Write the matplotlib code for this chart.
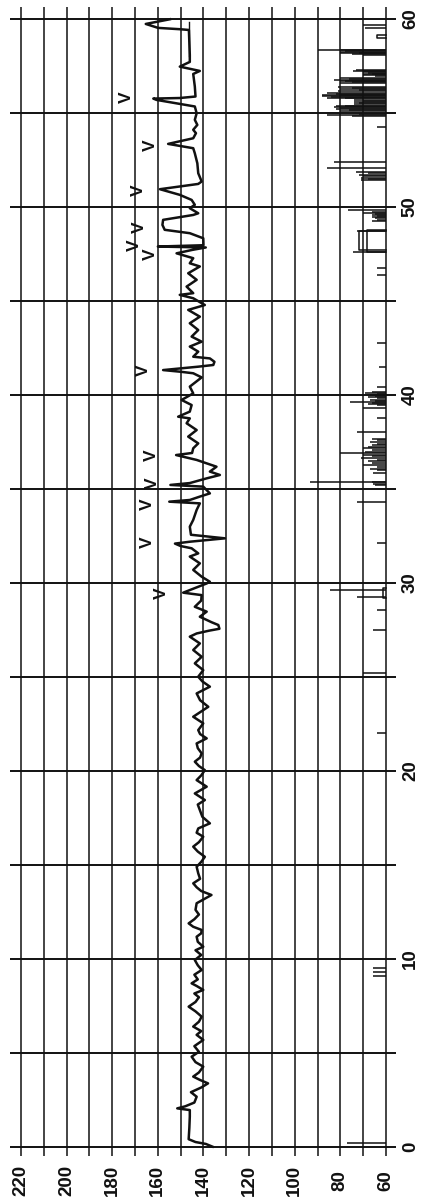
import matplotlib
matplotlib.use("Agg")
import matplotlib.pyplot as plt

plt.rcParams['font.family'] = ['Liberation Sans', 'DejaVu Sans']

# time axis (minutes) and heart-rate axis (bpm)
time_ticks = [0, 10, 20, 30, 40, 50, 60]
time_grid = [0, 5, 10, 15, 20, 25, 30, 35, 40, 45, 50, 55, 60]
bpm_ticks = [220, 200, 180, 160, 140, 120, 100, 80, 60]
bpm_grid = list(range(60, 221, 10))

# fetal heart rate trace: minute, bpm
fhr_t = [0.00, 0.15, 0.25, 0.40, 1.00, 1.60, 1.95, 2.04, 2.15, 2.35, 2.66, 2.90, 3.15, 3.37, 3.55,
         3.73, 3.95, 4.26, 4.50, 4.79, 5.05, 5.35, 5.68, 5.95, 6.15, 6.39, 6.65, 6.92, 7.20, 7.45,
         7.70, 7.95, 8.15, 8.34, 8.55, 8.69, 8.90, 9.15, 9.40, 9.65, 9.93, 10.20, 10.45, 10.64, 10.90,
         11.17, 11.35, 11.53, 11.70, 11.88, 12.10, 12.35, 12.60, 12.95, 13.15, 13.39, 13.60, 13.80, 14.01, 14.25,
         14.54, 14.89, 15.15, 15.42, 15.70, 15.96, 16.20, 16.49, 16.70, 16.93, 17.20, 17.55, 17.91, 18.20,
         18.44, 18.79, 19.15, 19.50, 19.75, 20.03, 20.25, 20.48, 20.70, 20.92, 21.20, 21.45, 21.72, 21.95,
         22.16, 22.52, 22.87, 23.15, 23.40, 23.75, 24.11, 24.47, 24.75, 25.00, 25.35, 25.71, 26.06, 26.42,
         26.77, 27.13, 27.30, 27.45, 27.55, 27.75, 27.90, 28.19, 28.46, 28.72, 29.05, 29.34, 29.47, 29.96,
         30.05, 30.32, 30.68, 31.03, 31.39, 31.56, 31.83, 31.95, 32.08, 32.18, 32.36, 32.55, 32.98, 33.34,
         33.87, 34.22, 34.31, 34.40, 34.58, 34.75, 35.11, 35.20, 35.30, 35.55, 35.73, 35.91, 36.17, 36.35,
         36.53, 36.79, 36.90, 37.15, 37.41, 37.77, 38.12, 38.48, 38.74, 38.83, 39.10, 39.45, 39.72, 40.07,
         40.43, 40.92, 41.14, 41.22, 41.31, 41.40, 41.49, 41.58, 41.75, 41.93, 42.02, 42.29, 42.56, 42.82,
         43.09, 43.44, 43.80, 44.15, 44.51, 44.77, 45.13, 45.31, 45.40, 45.75, 46.11, 46.46, 46.82, 46.99,
         47.26, 47.52, 47.70, 47.83, 47.88, 47.95, 48.32, 48.59, 48.77, 49.03, 49.30, 49.56, 49.65, 49.92,
         50.10, 50.36, 50.63, 50.93, 51.21, 51.34, 51.78, 52.31, 52.84, 53.11, 53.34, 53.64, 53.91, 54.09,
         54.35, 54.62, 54.97, 55.33, 55.68, 55.75, 55.78, 55.86, 56.39, 57.06, 57.22, 57.45, 57.70, 58.07,
         59.40, 59.44, 59.51, 59.72, 59.97]
fhr_v = [136.0, 139.0, 143.5, 146.5, 146.2, 146.0, 146.0, 151.5, 148.0, 144.0, 143.0, 145.5, 141.0, 138.0, 141.5,
         144.5, 142.0, 140.1, 143.5, 145.2, 142.0, 144.0, 140.1, 143.0, 141.0, 144.5, 142.0, 140.8, 143.5, 146.5,
         143.5, 142.0, 144.0, 140.1, 143.0, 145.2, 142.5, 144.0, 140.8, 142.5, 143.8, 141.0, 143.5, 140.1, 142.5,
         143.0, 141.0, 140.8, 144.5, 146.5, 144.0, 142.0, 143.5, 143.0, 140.0, 136.5, 141.0, 143.0, 144.5, 141.5,
         142.3, 143.0, 141.0, 139.4, 142.5, 144.5, 142.0, 140.1, 143.0, 142.3, 137.2, 140.5, 141.6, 142.5,
         139.4, 143.8, 138.6, 143.0, 141.0, 139.4, 142.0, 143.8, 141.5, 140.8, 142.5, 143.0, 138.6, 141.5,
         142.3, 140.1, 144.5, 141.0, 137.9, 141.5, 143.0, 137.2, 140.5, 142.3, 140.1, 143.8, 140.8, 144.5,
         141.6, 146.0, 143.0, 137.5, 133.0, 133.5, 136.5, 141.6, 138.6, 143.8, 141.0, 140.8, 148.9, 138.6,
         137.2, 140.8, 144.5, 141.6, 146.0, 142.3, 145.2, 150.0, 152.5, 146.0, 130.6, 145.5, 146.0, 144.5,
         143.0, 141.6, 155.0, 146.0, 141.6, 137.2, 140.1, 154.5, 146.0, 138.6, 132.8, 137.2, 134.3, 138.6,
         143.0, 152.0, 145.0, 144.5, 142.3, 146.7, 143.0, 147.4, 146.0, 151.1, 146.0, 145.2, 149.6, 144.5,
         146.0, 140.8, 144.5, 150.0, 157.7, 150.0, 142.3, 135.7, 135.2, 137.2, 144.5, 142.3, 146.0, 140.8,
         145.2, 142.3, 146.0, 141.6, 146.7, 139.4, 144.5, 150.4, 144.5, 147.4, 143.0, 146.7, 141.6, 146.0,
         144.5, 151.8, 145.0, 139.0, 160.0, 140.0, 140.1, 146.0, 157.0, 158.0, 157.7, 144.5, 142.3, 146.0,
         143.8, 145.2, 150.4, 159.1, 142.3, 140.8, 142.3, 142.7, 143.8, 144.5, 155.5, 144.5, 143.3, 144.5,
         142.7, 143.8, 143.0, 143.8, 160.6, 162.0, 150.4, 143.5, 143.8, 144.5, 141.6, 150.4, 146.0, 146.0,
         146.4, 150.4, 159.9, 165.3, 154.7]

# short straight segment near the end of the record
base_t = [58.0, 59.8]
base_v = [146.3, 146.3]

# fetal movement channel: single spikes (minute, level)
mov_t = [58.34, 58.31, 58.28, 58.24, 58.20, 58.16, 58.12, 58.08, 57.28, 57.24, 57.20, 57.16, 57.12,
         57.08, 57.04, 57.00, 56.96, 56.83, 56.78, 56.74, 56.70, 56.66, 56.62, 56.57, 56.39, 56.33,
         56.27, 56.21, 56.15, 56.04, 56.00, 55.96, 55.92, 55.88, 55.84, 55.80, 55.77, 55.68, 55.62,
         55.56, 55.50, 55.44, 55.38, 55.33, 55.28, 55.23, 55.18, 55.12, 55.07, 54.95, 54.88, 54.84,
         54.26, 52.40, 52.05, 51.87, 51.78, 51.70, 51.62, 51.55, 51.48, 51.40, 49.82, 49.74, 49.68,
         49.62, 49.56, 49.50, 49.44, 49.38, 49.30, 49.22, 48.70, 47.60, 46.72, 46.37, 42.73, 41.49,
         40.42, 40.16, 40.10, 40.04, 39.98, 39.92, 39.86, 39.80, 39.74, 39.68, 39.62, 39.56, 39.50,
         39.45, 39.27, 38.74, 38.03, 37.67, 37.60, 37.50, 37.40, 37.30, 37.23, 37.15, 37.05, 36.95,
         36.88, 36.80, 36.72, 36.65, 36.55, 36.45, 36.35, 36.25, 36.15, 36.06, 35.99, 35.81, 35.37,
         35.33, 35.27, 35.19, 34.30, 32.09, 29.61, 29.26, 28.55, 27.48, 25.18, 22.00, 9.50, 9.30,
         9.10, 0.18, 59.67, 59.49]
mov_v = [89.7, 80, 78, 80, 72, 80, 75, 70, 73, 70, 74.5, 70, 68,
         70, 66, 70, 65, 80, 76, 83, 78, 80, 75, 80, 81, 75,
         80, 72, 81, 86, 82, 88, 80, 88, 84, 86, 78, 74, 70,
         74, 72, 74, 82, 78, 83, 80, 82, 76, 80, 72, 86, 75,
         64, 83, 86, 73, 68, 72, 70, 71, 68, 71, 76.5, 66, 70,
         65, 66, 64, 66, 65, 64, 66, 72.9, 74.3, 64, 64, 64, 63,
         64, 66, 69, 64, 67, 65, 68, 64, 67, 65, 75.8, 66, 68,
         64, 70, 64, 72.9, 66, 64, 67, 64, 66, 68, 70, 66, 69,
         80, 70, 66, 71, 64, 68, 66, 70, 64, 67, 64, 65.5, 66,
         93.3, 65.8, 65, 72.9, 64, 84.6, 72.9, 64, 65.5, 70, 64, 65.6, 65.6,
         65.6, 77.2, 70, 69]

# movement channel: flat plateaus (start, end, level)
plat_t0 = [29.20, 58.96, 47.70, 47.60]
plat_t1 = [29.70, 59.14, 48.70, 48.75]
plat_v = [61.5, 64.0, 71.7, 68.5]

# "V" marks above the trace
mark_t = [55.82, 53.25, 50.90, 48.90, 47.95, 47.45, 41.31, 36.80, 35.30, 34.20, 32.15, 29.45]
mark_v = [173.7, 163.5, 168.6, 167.9, 170.5, 163.5, 166.4, 162.8, 162.4, 164.5, 164.5, 158.4]

fig = plt.figure(figsize=(4.21, 12.02), dpi=100)
ax = fig.add_axes([0.0228, 0.0366, 0.9211, 0.9635])
ax.set_xlim(225, 55)
ax.set_ylim(-0.6, 61.0)
ax.axis('off')

ink = '#111111'
ax.vlines(bpm_grid, -0.5, 60.6, color=ink, lw=1.1)
ax.hlines(time_grid, 225, 55.6, color=ink, lw=1.4)

ax.plot(fhr_v, fhr_t, color=ink, lw=1.8, solid_joinstyle='round')
ax.plot(base_v, base_t, color=ink, lw=1.0)

for t, v in zip(mov_t, mov_v):
    ax.plot([60, v], [t, t], color=ink, lw=1.1, solid_capstyle='butt')
for t0, t1, v in zip(plat_t0, plat_t1, plat_v):
    ax.plot([60, v, v, 60], [t0, t0, t1, t1], color=ink, lw=1.1)

for t, v in zip(mark_t, mark_v):
    ax.text(v, t, 'V', rotation=90, ha='center', va='center', fontsize=12.5,
            fontweight='heavy', color=ink)

for t in time_ticks:
    ax.text(49.3, t, str(t), rotation=90, ha='center', va='center', fontsize=13.5,
            fontweight='bold', color=ink, clip_on=False)
for b in bpm_ticks:
    ax.text(b, -1.78, str(b), rotation=90, ha='center', va='center', fontsize=13.5,
            fontweight='bold', color=ink, clip_on=False)

fig.savefig('out.png', dpi=100)
